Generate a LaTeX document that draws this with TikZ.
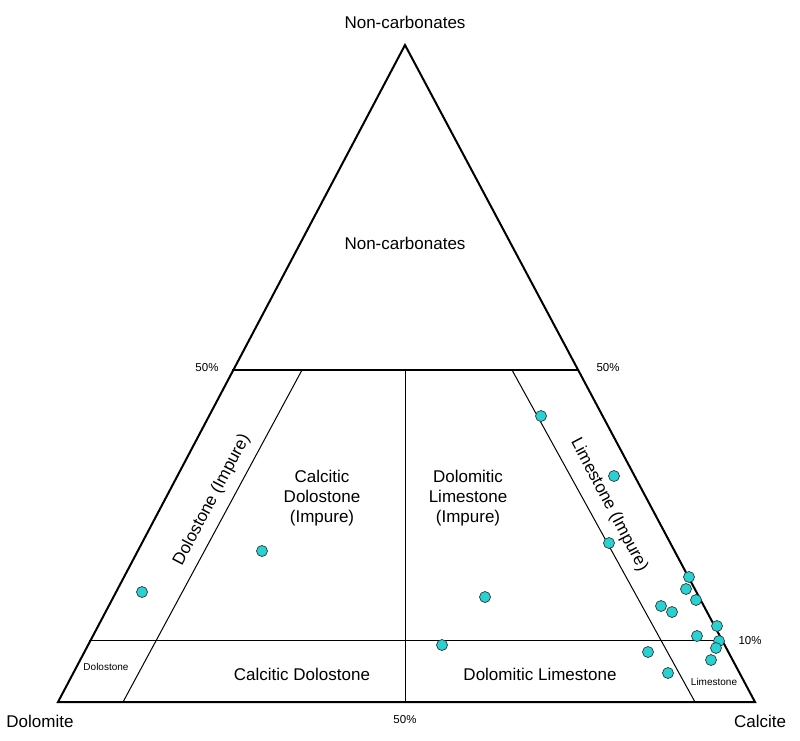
\documentclass[tikz,border=0pt]{standalone}
\usepackage{fontspec}
\setmainfont{Liberation Sans}
\definecolor{dotc}{RGB}{40,210,210}
\begin{document}
\begin{tikzpicture}[x=1pt,y=-1pt,
  pt/.style={circle,draw=black!80,fill=dotc,inner sep=0pt,minimum size=11pt,line width=0.7pt},
  big/.style={font=\fontsize{17}{20}\selectfont,align=center},
  sm/.style={font=\fontsize{11.5}{13}\selectfont}]
\useasboundingbox (0,0) rectangle (800,740);
\coordinate (A) at (405,45); \coordinate (L) at (58,702); \coordinate (R) at (755,702);
\draw[line width=2pt,line join=miter] (A)--(L)--(R)--cycle;
\coordinate (h1) at (232,370); \coordinate (h2) at (579,370);
\draw[line width=2pt] (h1)--(h2);
\coordinate (t1) at (89,640); \coordinate (t2) at (722,640);
\draw[line width=1pt] (t1)--(t2);
\coordinate (v1) at (405,370); \coordinate (v2) at (405,702);
\draw[line width=1pt] (v1)--(v2);
\coordinate (l1) at (302,370); \coordinate (l2) at (123,702);
\draw[line width=1pt] (l1)--(l2);
\coordinate (r1) at (512,370); \coordinate (r2) at (695,702);
\draw[line width=1pt] (r1)--(r2);
\node[big] (nt) at (405,22) {Non-carbonates};
\node[big] (nc) at (405,243) {Non-carbonates};
\node[big] (dl) at (40,721) {Dolomite};
\node[big] (cl) at (760,721) {Calcite};
\node[sm] (p1) at (207,368) {50\%};
\node[sm] (p2) at (608,368) {50\%};
\node[sm] (p3) at (405,720) {50\%};
\node[sm] (p4) at (750,641) {10\%};
\node[big] (cd) at (322,498) {Calcitic\\Dolostone\\(Impure)};
\node[big] (dli) at (468,498) {Dolomitic\\Limestone\\(Impure)};
\node[big] (cd2) at (302,674) {Calcitic Dolostone};
\node[big] (dl2) at (540,674) {Dolomitic Limestone};
\node[font=\fontsize{10}{11}\selectfont] (ds) at (106,667) {Dolostone};
\node[font=\fontsize{10}{11}\selectfont] (ls) at (714,682) {Limestone};
\node[big,rotate=62.2] (dsi) at (212,500) {Dolostone (Impure)};
\node[big,rotate=-62.2] (lsi) at (609,505) {Limestone (Impure)};
\foreach \x/\y [count=\i] in {541/416,614/476,609/543,262/551,142/592,485/597,689/577,686/589,696/600,661/606,672/612,717/626,697/636,719/641,716/648,442/645,648/652,711/660,668/673}
  \node[pt] (d\i) at (\x,\y) {};
\end{tikzpicture}
\end{document}
